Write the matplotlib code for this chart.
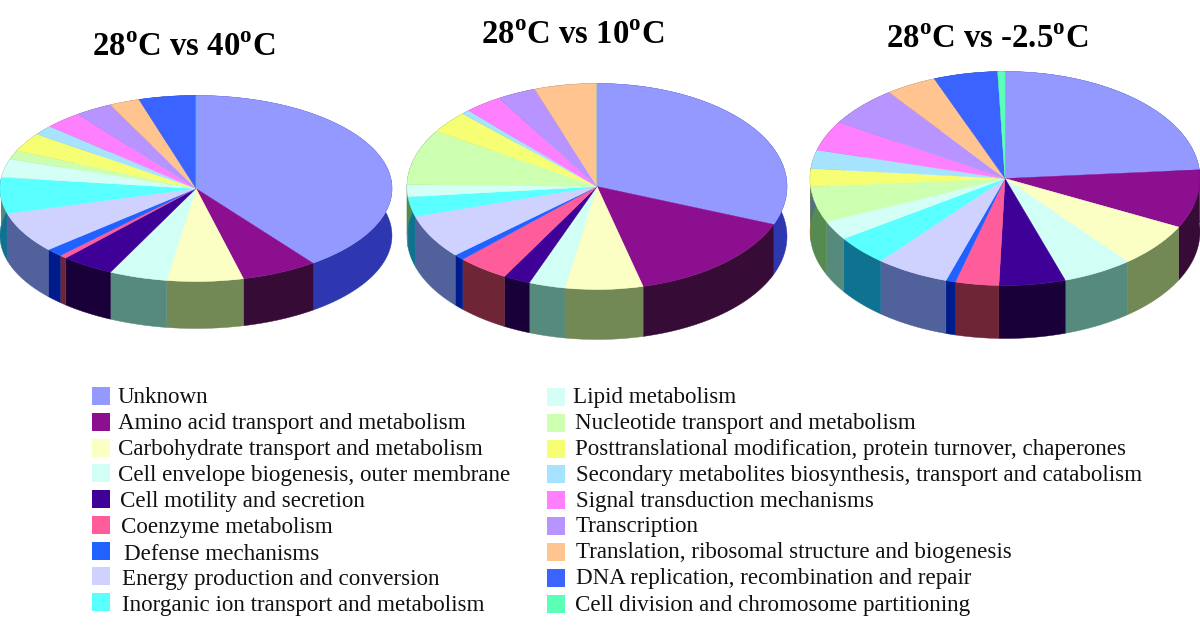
import numpy as np
import matplotlib
matplotlib.use("Agg")
import matplotlib.pyplot as plt

plt.rcParams['font.family'] = ['Liberation Serif', 'DejaVu Serif']
plt.rcParams['mathtext.fontset'] = 'custom'
plt.rcParams['mathtext.bf'] = 'Liberation Serif:bold'
plt.rcParams['mathtext.rm'] = 'Liberation Serif'

categories = [
    "Unknown", "Amino acid transport and metabolism",
    "Carbohydrate transport and metabolism",
    "Cell envelope biogenesis, outer membrane",
    "Cell motility and secretion", "Coenzyme metabolism",
    "Defense mechanisms", "Energy production and conversion",
    "Inorganic ion transport and metabolism", "Lipid metabolism",
    "Nucleotide transport and metabolism",
    "Posttranslational modification, protein turnover, chaperones",
    "Secondary metabolites biosynthesis, transport and catabolism",
    "Signal transduction mechanisms", "Transcription",
    "Translation, ribosomal structure and biogenesis",
    "DNA replication, recombination and repair",
    "Cell division and chromosome partitioning",
]
top_colors = ["#9499FF", "#8B0F8E", "#FBFFC4", "#D2FFF5", "#3F0097", "#FF5C9C",
              "#1F62FF", "#CFD2FF", "#5AFFFF", "#D4FFF6", "#CCFFB0", "#F6FF74",
              "#A6E3FF", "#FF80FF", "#B794FF", "#FFC48F", "#3A63FF", "#5CFFB8"]
side_colors = ["#2E36B0", "#360B36", "#728855", "#558A7C", "#1A0038", "#6E2637",
               "#001C8C", "#51619C", "#0F7290", "#558A7C", "#558A50", "#7A8040",
               "#50708A", "#804080", "#5A4A80", "#806040", "#1C3080", "#2E8060"]

values_40 = [39.9, 6.3, 6.3, 4.8, 4.4, 0.6, 1.4, 7.1, 6.3, 3.2, 1.5, 3.3, 1.7, 3.1, 3.1, 2.5, 4.7, 0.0]
values_10 = [31.0, 15.1, 6.6, 3.1, 2.3, 4.4, 0.9, 6.9, 3.1, 1.9, 8.7, 3.5, 0.7, 3.2, 3.3, 5.3, 0.0, 0.0]
values_m25 = [23.7, 8.8, 6.7, 5.8, 5.5, 3.6, 0.8, 6.1, 4.5, 2.9, 5.4, 2.7, 2.8, 4.5, 6.1, 4.2, 5.3, 0.6]

titles = ["28$^{\\mathbf{o}}$C vs 40$^{\\mathbf{o}}$C",
          "28$^{\\mathbf{o}}$C vs 10$^{\\mathbf{o}}$C",
          "28$^{\\mathbf{o}}$C vs -2.5$^{\\mathbf{o}}$C"]

W, H = 1200, 625
fig = plt.figure(figsize=(W / 100, H / 100), dpi=100, facecolor="white")


def fx(x):
    return x / W


def fy(y):
    return 1 - y / H


def pie3d(values, cx, cy, rx, ry, depth):
    ax = fig.add_axes([fx(cx - rx), fy(cy + ry + depth), 2 * rx / W, (2 * ry + depth) / H])
    d = depth / ry
    vals = np.asarray(values, dtype=float)
    ends = np.cumsum(vals) / vals.sum() * 2 * np.pi
    starts = np.r_[0, ends[:-1]]
    for a0, a1, v, col in zip(starts, ends, vals, side_colors):
        if v == 0:
            continue
        t = np.linspace(a0, a1, 80)
        px, py = np.sin(t), np.cos(t)
        ax.fill(np.r_[px, px[::-1]], np.r_[py, (py - d)[::-1]], color=col, lw=0.3, clip_on=False)
    wedges, _ = ax.pie(vals, colors=top_colors, startangle=90, counterclock=False, radius=1)
    for w in wedges:
        w.set_edgecolor(w.get_facecolor())
        w.set_linewidth(0.3)
        w.set_clip_on(False)
    ax.set_aspect('auto')
    ax.set_xlim(-1, 1)
    ax.set_ylim(-1 - d, 1)
    ax.axis('off')


pie3d(values_40, 196, 188.5, 196, 93, 47)
pie3d(values_10, 597, 186.5, 190, 103, 50)
pie3d(values_m25, 1005, 178.5, 195, 107, 53)

for t, x, y in zip(titles, [183.5, 573, 987], [56, 44, 48]):
    fig.text(fx(x), fy(y), t, fontsize=23.6, fontweight='bold', ha='center', va='baseline')

rows_left_y = [403, 429, 455, 481, 507, 533, 560, 585, 611]
rows_left_x = [118, 118, 118, 118, 120, 121, 124, 122, 122]
rows_right_y = [403, 429, 455, 481, 507, 532, 558, 584, 611]
rows_right_x = [573, 575, 575, 576, 576, 576, 576, 576, 575]
swatch_top_left = [387, 413, 439, 464, 490, 516, 542, 567, 593]
swatch_top_right = [388, 414, 440, 465, 491, 517, 543, 569, 595]
swatch_size = 18

for i, name in enumerate(categories):
    if i < 9:
        tx, ty, sx, sy = rows_left_x[i], rows_left_y[i], 92, swatch_top_left[i]
    else:
        tx, ty, sx, sy = rows_right_x[i - 9], rows_right_y[i - 9], 547, swatch_top_right[i - 9]
    fig.patches.append(plt.Rectangle((fx(sx), fy(sy + swatch_size)), swatch_size / W, swatch_size / H,
                                     transform=fig.transFigure, color=top_colors[i], lw=0, figure=fig))
    fig.text(fx(tx), fy(ty), name, fontsize=16.55, ha='left', va='baseline', color='#111111')

fig.savefig("out.png", dpi=100)
